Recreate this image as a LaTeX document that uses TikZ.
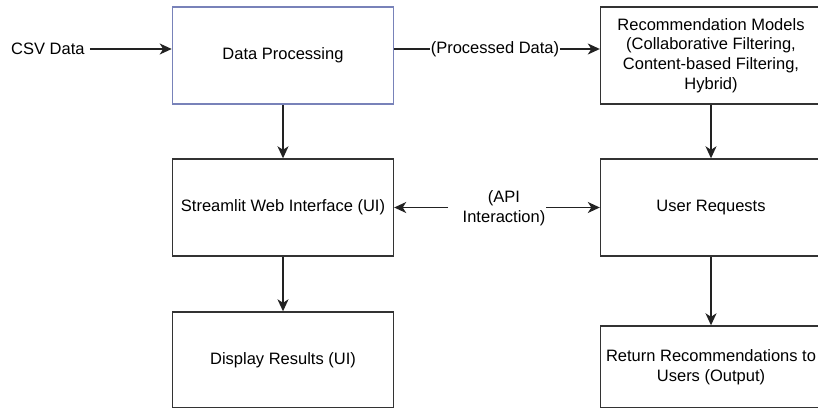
\documentclass[tikz,border=0pt]{standalone}
\usepackage{fontspec}
\setmainfont{Liberation Sans}
\usetikzlibrary{arrows.meta}

\definecolor{boxline}{RGB}{51,51,51}
\definecolor{blueline}{RGB}{120,130,185}
\definecolor{wireline}{RGB}{34,34,34}

\tikzset{
  stagebox/.style={draw=boxline, line width=1.4pt, fill=white,
    minimum width=221pt, inner sep=2pt, align=center,
    font=\fontsize{16.5}{19.8}\selectfont},
  wire/.style={draw=wireline, line width=1.4pt,
    -{Stealth[length=12pt,width=11pt,inset=3.5pt]}},
  txt/.style={inner sep=1pt, align=center,
    font=\fontsize{16.5}{19.8}\selectfont},
}

\begin{document}
\begin{tikzpicture}[x=1pt,y=-1pt]
  \useasboundingbox (0,0) rectangle (818,407);
  \clip (0,0) rectangle (818,407);
  \fill[white] (0,0) rectangle (818,407);

  % processing stages
  \node[stagebox, draw=blueline, line width=1.6pt, minimum height=97pt] (dp) at (283,55.5) {Data Processing};
  \node[stagebox, minimum height=97pt] (rm) at (711,55.5)
    {Recommendation Models\\(Collaborative Filtering,\\Content-based Filtering,\\Hybrid)};
  \node[stagebox, minimum height=97pt] (sw) at (283,207.5) {Streamlit Web Interface (UI)};
  \node[stagebox, minimum height=97pt] (ur) at (711,207.5) {User Requests};
  \node[stagebox, minimum height=96pt] (dr) at (283,360) {Display Results (UI)};
  \node[stagebox, minimum height=82pt] (rr) at (711,367)
    {Return Recommendations to\\Users (Output)};

  % input
  \node[txt, anchor=west] (csv) at (10,49) {CSV Data};
  \draw[wire] (csv.east) ++(4,0) -- (dp.west |- 0,49);

  % processed data link
  \draw[wire] (dp.east |- 0,49) -- (rm.west |- 0,49)
    node[pos=0.49, txt, fill=white, inner xsep=0.5pt] (pd) {(Processed Data)};

  % vertical flow
  \draw[wire] (dp.south) -- (sw.north);
  \draw[wire] (rm.south) -- (ur.north);
  \draw[wire] (sw.south) -- (dr.north);
  \draw[wire] (ur.south) -- (rr.north);

  % API interaction between UI and requests
  \node[txt] (api) at (504,208.5) {(API\\Interaction)};
  \coordinate (apiL) at (448,207.5);
  \coordinate (apiR) at (546,207.5);
  \draw[wire] (apiL) -- (sw.east);
  \draw[wire] (apiR) -- (ur.west);
\end{tikzpicture}
\end{document}
